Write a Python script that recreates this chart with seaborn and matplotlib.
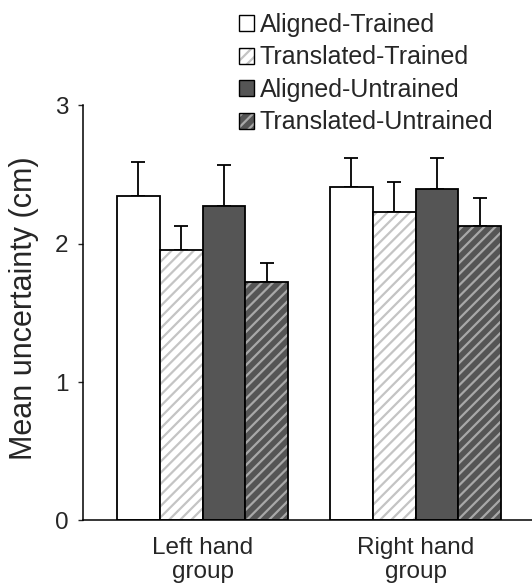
import matplotlib
matplotlib.use("Agg")
import matplotlib.pyplot as plt
from matplotlib.colors import to_rgba
from matplotlib.patches import Patch
import pandas as pd
import seaborn as sns

groups = ["Left hand\ngroup", "Right hand\ngroup"]
conditions = ["Aligned-Trained", "Translated-Trained", "Aligned-Untrained", "Translated-Untrained"]
left_means = [2.34, 1.95, 2.27, 1.72]
right_means = [2.41, 2.23, 2.39, 2.13]
left_err = [0.245, 0.18, 0.30, 0.14]
right_err = [0.21, 0.215, 0.23, 0.195]

face_colors = ["#ffffff", "#ffffff", "#555555", "#555555"]
hatch_colors = ["#c4c4c4", "#c4c4c4", "#a8a8a8", "#a8a8a8"]
hatches = ["", "///", "", "///"]

rows = []
for g, means, errs in [(groups[0], left_means, left_err), (groups[1], right_means, right_err)]:
    for c, m, e in zip(conditions, means, errs):
        rows.append({"group": g, "condition": c, "mean": m, "err": e})
df = pd.DataFrame(rows)

sns.set_style("white")
plt.rcParams["font.family"] = ["Liberation Sans", "DejaVu Sans"]
plt.rcParams["hatch.linewidth"] = 1.6

fig = plt.figure(figsize=(5.32, 5.88), dpi=100)
ax = fig.add_axes([0.156, 0.1148, 0.844, 0.7066])

sns.barplot(data=df, x="group", y="mean", hue="condition", order=groups,
            hue_order=conditions, errorbar=None, width=0.803, gap=0,
            palette=face_colors, edgecolor="black", linewidth=1.3,
            legend=False, ax=ax)

bar_containers = list(ax.containers)
for i, cont in enumerate(bar_containers):
    sub = df[df["condition"] == conditions[i]].set_index("group").loc[groups]
    for bar, m, e in zip(cont.patches, sub["mean"], sub["err"]):
        bar.set_hatch(hatches[i])
        bar._hatch_color = to_rgba(hatch_colors[i])
        bar.set_zorder(2)
        xc = bar.get_x() + bar.get_width() / 2
        ax.errorbar(xc, m, yerr=[[0], [e]], fmt="none", ecolor="black",
                    elinewidth=1.3, capsize=5, capthick=1.3, zorder=1)

ax.set_xlim(-0.561, 1.546)
ax.set_ylim(0, 3)
ax.set_yticks([0, 1, 2, 3])
ax.set_yticklabels(["0", "1", "2", "3"], fontsize=17.5)
ax.tick_params(axis="y", length=3.6, width=1.0, direction="out", left=True, pad=7)
ax.tick_params(axis="x", length=0, labelsize=17.5, pad=12)
for t in ax.get_xticklabels():
    t.set_linespacing(1.12)
ax.set_xlabel("")
ax.set_ylabel("Mean uncertainty (cm)", fontsize=22)
ax.yaxis.set_label_coords(-0.098, 0.512)
for s in ["top", "right"]:
    ax.spines[s].set_visible(False)
for s in ["left", "bottom"]:
    ax.spines[s].set_color("black")
    ax.spines[s].set_linewidth(1.1)

handles = []
for i, c in enumerate(conditions):
    handles.append(Patch(facecolor=face_colors[i], edgecolor="black",
                         hatch=hatches[i], linewidth=1.0, label=c))
leg = fig.legend(handles=handles, loc="upper left", bbox_to_anchor=(0.449, 0.978),
                 frameon=False, fontsize=18, handlelength=0.6, handleheight=0.6,
                 handletextpad=0.24, labelspacing=0.34, borderpad=0.0,
                 borderaxespad=0.0)
for h, hc in zip(leg.legend_handles, hatch_colors):
    h._hatch_color = to_rgba(hc)

fig.savefig("out.png", dpi=100)
